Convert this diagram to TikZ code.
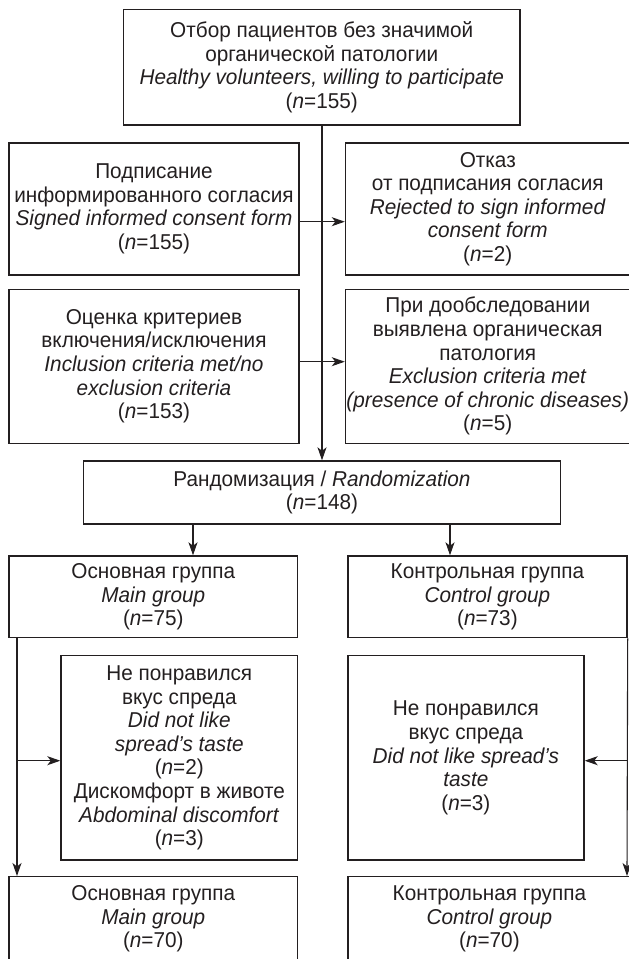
\documentclass[tikz,border=0pt]{standalone}
\usepackage{fontspec}
\setmainfont{Liberation Sans}[FakeStretch=0.965]
\usetikzlibrary{arrows.meta}
\definecolor{ink}{HTML}{231F20}
\tikzset{
  box/.style={draw=ink, line width=1.4pt, inner sep=0pt, align=center, text=ink,
    font=\fontsize{21.5}{23.6}\selectfont},
  arr/.style={draw=ink, line width=1.1pt, -{Stealth[length=13pt,width=9pt,inset=3.5pt]}},
}
\newcommand{\bx}[6]{% name, x1, x2, y1, y2, text
  \node[box, minimum width={#3-#2}, minimum height={#5-#4}] (#1) at ({(#2+#3)/2},{(#4+#5)/2}) {#6};}
\newcommand{\nn}[1]{(\textit{n}=#1)}
\begin{document}
\begin{tikzpicture}[x=1pt,y=-1pt]
\useasboundingbox (0,0) rectangle (629,959);
\clip (0,0) rectangle (629,959);
\bx{top}{123.5}{520}{9.3}{125}{Отбор пациентов без значимой\\ органической патологии\\ \textit{Healthy volunteers, willing to participate}\\ \nn{155}}
\bx{sign}{9}{299}{143}{275}{Подписание\\ информированного согласия\\ \textit{Signed informed consent form}\\ \nn{155}}
\bx{rej}{345.5}{630}{143}{275}{Отказ\\ от подписания согласия\\ \textit{Rejected to sign informed}\\ \textit{consent form}\\ \nn{2}}
\bx{crit}{9}{299}{289.3}{443.3}{Оценка критериев\\ включения/исключения\\ \textit{Inclusion criteria met/no}\\ \textit{exclusion criteria}\\ \nn{153}}
\bx{excl}{345.5}{630}{289.3}{443.3}{При дообследовании\\ выявлена органическая\\ патология\\ \textit{Exclusion criteria met}\\ \textit{(presence of chronic diseases)}\\ \nn{5}}
\bx{rand}{83.5}{560.5}{461}{524}{Рандомизация / \textit{Randomization}\\ \nn{148}}
\bx{main}{9}{297.6}{556}{637.7}{Основная группа\\ \textit{Main group}\\ \nn{75}}
\bx{ctrl}{347.8}{627}{556}{637.7}{Контрольная группа\\ \textit{Control group}\\ \nn{73}}
\bx{dropL}{61}{297.6}{655.7}{860}{Не понравился\\ вкус спреда\\ \textit{Did not like}\\ \textit{spread's taste}\\ \nn{2}\\ Дискомфорт в животе\\ \textit{Abdominal discomfort}\\ \nn{3}}
\bx{dropR}{347.8}{584}{655.7}{860}{Не понравился\\ вкус спреда\\ \textit{Did not like spread's}\\ \textit{taste}\\ \nn{3}}
\bx{mainF}{9}{297.6}{876.7}{961}{Основная группа\\ \textit{Main group}\\ \nn{70}}
\bx{ctrlF}{347.8}{631}{876.7}{961}{Контрольная группа\\ \textit{Control group}\\ \nn{70}}
% main vertical flow
\coordinate (vx) at (322,0);
\draw[arr] (top.south -| vx) -- (rand.north -| vx);
\coordinate (y1) at (0,221.7);
\coordinate (y2) at (0,361.7);
\draw[arr] (sign.east |- y1) -- (rej.west |- y1);
\draw[arr] (crit.east |- y2) -- (excl.west |- y2);
% randomization split
\coordinate (sx1) at (193,0);
\coordinate (sx2) at (450,0);
\draw[arr] (rand.south -| sx1) -- (main.north -| sx1);
\draw[arr] (rand.south -| sx2) -- (ctrl.north -| sx2);
% left branch
\coordinate (lx) at (17,0);
\coordinate (by) at (0,760.7);
\draw[arr] (main.south -| lx) -- (mainF.north -| lx);
\draw[arr] (lx |- by) -- (dropL.west |- by);
% right branch
\coordinate (rx) at (627,0);
\draw[arr] (ctrl.south east) -- (ctrlF.north -| rx);
\draw[arr] (rx |- by) -- (dropR.east |- by);
\end{tikzpicture}
\end{document}
